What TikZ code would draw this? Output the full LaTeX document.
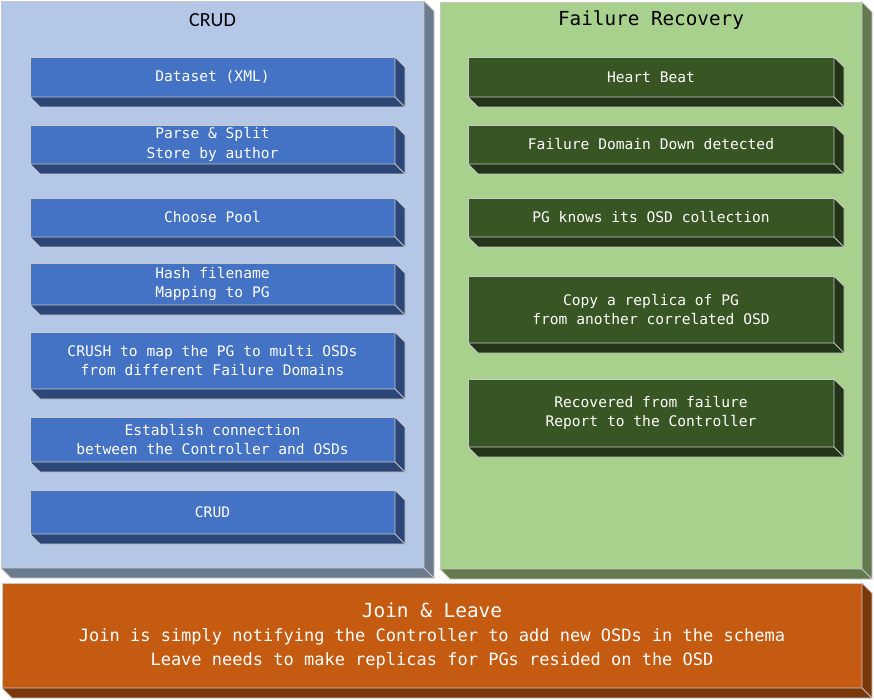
\documentclass[tikz,border=0pt]{standalone}
\usepackage{fontspec}
\newfontfamily\monofnt{DejaVu Sans Mono}
\newfontfamily\calfnt{Carlito}
\definecolor{panelblue}{HTML}{B4C7E7}
\definecolor{panelblueside}{HTML}{6D7B8F}
\definecolor{boxblue}{HTML}{4472C4}
\definecolor{boxblueside}{HTML}{2C4677}
\definecolor{panelgreen}{HTML}{A9D18E}
\definecolor{panelgreenside}{HTML}{64794F}
\definecolor{boxgreen}{HTML}{375623}
\definecolor{boxgreenside}{HTML}{223518}
\definecolor{panelorange}{HTML}{C55A11}
\definecolor{panelorangeside}{HTML}{7A380A}
\definecolor{edgegray}{HTML}{C8C8C8}
\newcommand\slab[7]{%
  \node[#6face, minimum width={(#4-#2)*1pt}, minimum height={(#5-#3)*1pt}] (#1) at ({(#2+#4)/2},{(#3+#5)/2}) {#7};
  \filldraw[#6side] (#1.south west) -- (#1.south east) -- (#1.north east) -- ++(10,10)
    -- ([shift={(10,10)}]#1.south east) -- ([shift={(10,10)}]#1.south west) -- cycle;
  \draw[edgeline] (#1.south east) -- ++(10,10);
}
\begin{document}
\begin{tikzpicture}[x=1pt,y=-1pt,
  base/.style={inner sep=0pt, outer sep=0pt, draw=edgegray, line width=0.8pt, align=center},
  edgeline/.style={draw=edgegray, line width=0.8pt},
  pbface/.style={base, fill=panelblue},
  pbside/.style={fill=panelblueside, draw=edgegray, line width=0.8pt},
  bbface/.style={base, fill=boxblue, text=white, font=\monofnt\fontsize{14.6}{19.5}\selectfont},
  bbside/.style={fill=boxblueside, draw=edgegray, line width=0.8pt},
  pgface/.style={base, fill=panelgreen},
  pgside/.style={fill=panelgreenside, draw=edgegray, line width=0.8pt},
  bgface/.style={base, fill=boxgreen, text=white, font=\monofnt\fontsize{14.6}{19.5}\selectfont},
  bgside/.style={fill=boxgreenside, draw=edgegray, line width=0.8pt},
  poface/.style={base, fill=panelorange, text=white, font=\monofnt\fontsize{17}{23.5}\selectfont},
  poside/.style={fill=panelorangeside, draw=edgegray, line width=0.8pt},
  ttl/.style={inner sep=0pt, text=black}
]
\useasboundingbox (0,0) rectangle (874,700);
% panels
\slab{left}{1}{1}{424}{568}{pb}{}
\slab{right}{440}{2}{862}{569}{pg}{}
\slab{bottom}{2}{583}{862}{688}{po}{{\fontsize{19.4}{24}\selectfont Join \& Leave}\\[1pt]Join is simply notifying the Controller to add new OSDs in the schema\\Leave needs to make replicas for PGs resided on the OSD}
% titles
\node[ttl, font=\calfnt\fontsize{20}{24}\selectfont] (crudtitle) at (212.5,20) {CRUD};
\node[ttl, font=\monofnt\fontsize{19.3}{24}\selectfont] (frtitle) at (651,20) {Failure Recovery};
% blue boxes
\slab{b1}{30}{57}{395}{97}{bb}{Dataset (XML)}
\slab{b2}{30}{125}{395}{164}{bb}{Parse \& Split\\Store by author}
\slab{b3}{30}{198}{395}{237}{bb}{Choose Pool}
\slab{b4}{30}{263}{395}{305}{bb}{Hash filename\\Mapping to PG}
\slab{b5}{30}{332}{395}{389}{bb}{CRUSH to map the PG to multi OSDs\\from different Failure Domains}
\slab{b6}{30}{417}{395}{462}{bb}{Establish connection\\between the Controller and OSDs}
\slab{b7}{30}{490}{395}{534}{bb}{CRUD}
% green boxes
\slab{g1}{468}{57}{834}{97}{bg}{Heart Beat}
\slab{g2}{468}{125}{834}{164}{bg}{Failure Domain Down detected}
\slab{g3}{468}{198}{834}{237}{bg}{PG knows its OSD collection}
\slab{g4}{468}{276}{834}{343}{bg}{Copy a replica of PG\\from another correlated OSD}
\slab{g5}{468}{379}{834}{447}{bg}{Recovered from failure\\Report to the Controller}
\end{tikzpicture}
\end{document}
